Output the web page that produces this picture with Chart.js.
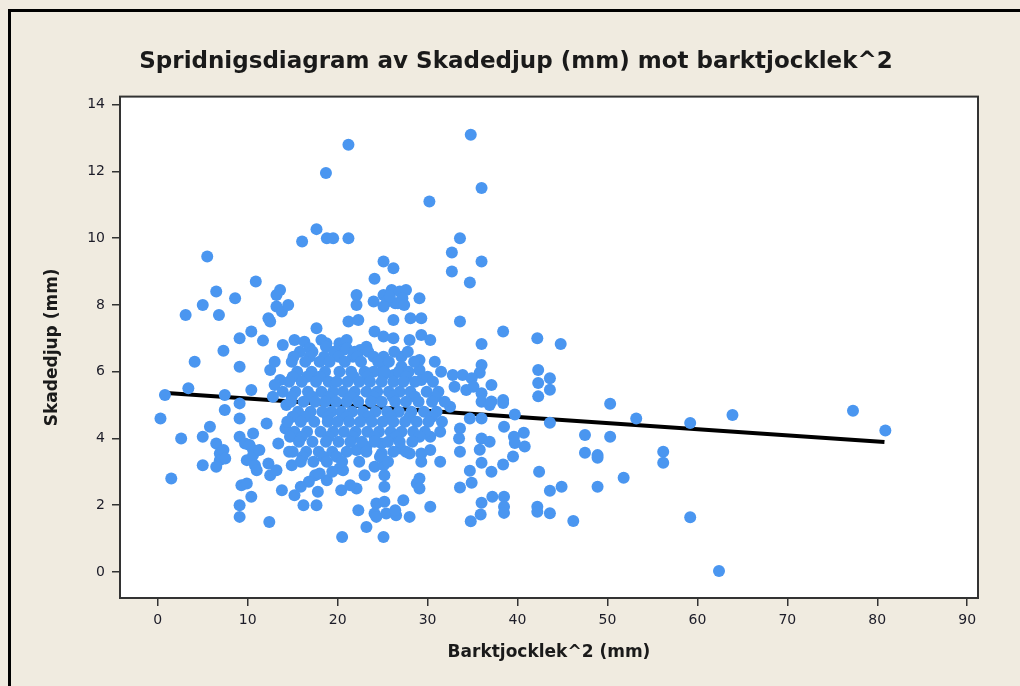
<!DOCTYPE html>
<html>
<head>
<meta charset="utf-8">
<script src="https://cdn.jsdelivr.net/npm/chart.js@4"></script>
<style>
  html, body { margin: 0; padding: 0; background: #f0ebe0; }
  #wrap { position: relative; width: 1020px; height: 686px; overflow: hidden; }
  #frame { position: absolute; left: 8px; top: 9px; width: 1030px; height: 700px;
           border-top: 3px solid #000; border-left: 3px solid #000; }
  canvas { position: absolute; left: 0; top: 0; }
</style>
</head>
<body>
<div id="wrap">
  <div id="frame"></div>
  <canvas id="myChart" width="1020" height="686"></canvas>
</div>
<script>
const xTicks = [0, 10, 20, 30, 40, 50, 60, 70, 80, 90];
const yTicks = [0, 2, 4, 6, 8, 10, 12, 14];

// fitted line (end points)
const fitX = [1.0, 80.8];
const fitY = [5.36, 3.89];

// [barktjocklek^2, skadedjup]
const sparsePoints = [
  [0.3, 4.6], [0.8, 5.3], [1.5, 2.8], [2.6, 4.0], [3.1, 7.7], [3.4, 5.5], [4.1, 6.3], [5.0, 8.0], [5.0, 4.05], [5.0, 3.2],
  [5.5, 9.45], [5.8, 4.35], [6.5, 8.4], [6.8, 7.7], [6.5, 3.85], [6.9, 3.55], [6.9, 3.35], [6.5, 3.15], [7.3, 6.63], [7.45, 5.3],
  [7.45, 4.85], [7.3, 3.65], [7.5, 3.4], [8.6, 8.2], [9.1, 7.0], [9.1, 6.15], [9.1, 4.6], [9.1, 4.05], [9.1, 5.05], [9.3, 2.6],
  [9.1, 2.0], [9.1, 1.65], [9.7, 3.85], [9.9, 3.35], [9.9, 2.65], [10.4, 7.2], [10.4, 5.45], [10.6, 4.15], [10.6, 3.65], [10.2, 3.8],
  [10.6, 3.5], [10.8, 3.2], [11.0, 3.05], [10.4, 2.25], [10.9, 8.7], [11.7, 6.93], [12.1, 4.45], [11.3, 3.65], [12.3, 3.25], [12.4, 1.5],
  [12.3, 7.6], [12.5, 7.5], [12.5, 6.05], [12.5, 2.9], [13.2, 8.3], [13.6, 8.45], [13.2, 7.95], [13.8, 7.8], [14.5, 8.0], [13.0, 6.3],
  [13.6, 5.75], [13.0, 5.6], [13.9, 5.4], [12.8, 5.25], [13.4, 3.85], [13.2, 3.05], [13.8, 2.45], [13.9, 6.8], [14.3, 5.0], [14.2, 4.3],
  [14.6, 3.6], [14.9, 3.2],
  [15.2, 6.95], [16.3, 6.9], [16.9, 6.7], [18.2, 6.95], [18.75, 6.85], [17.65, 7.3], [18.7, 6.75], [16.05, 9.9], [17.65, 10.27], [18.8, 10.0],
  [19.5, 10.0], [18.7, 11.95], [20.2, 6.85], [20.6, 6.65], [15.2, 2.3], [16.2, 2.0], [17.65, 2.0], [17.5, 2.9], [18.8, 2.75], [18.0, 2.95],
  [20.2, 3.1], [20.4, 2.45], [20.5, 1.05], [16.8, 2.7], [15.9, 2.55], [17.8, 2.4], [19.4, 3.0],
  [21.2, 12.8], [21.2, 10.0], [21.2, 7.5], [22.3, 7.55], [22.1, 8.3], [22.1, 8.0], [21.0, 6.95], [21.0, 6.7], [22.5, 6.65], [23.2, 6.75],
  [21.7, 6.45], [24.1, 7.2], [25.1, 7.05], [26.2, 7.0], [24.1, 8.78], [25.1, 9.3], [26.2, 9.1], [25.1, 8.3], [26.0, 8.45], [25.5, 8.1],
  [26.4, 8.05], [24.0, 8.1], [25.8, 8.25], [26.9, 8.4], [26.7, 8.05], [25.1, 7.95], [27.6, 8.45], [27.2, 8.2], [27.4, 8.0], [26.2, 7.55],
  [29.1, 8.2], [28.1, 7.6], [29.3, 7.6], [28.0, 6.95], [29.3, 7.1], [30.3, 6.95], [30.2, 11.1], [25.1, 6.45], [27.1, 6.45], [25.1, 6.15],
  [27.1, 6.15], [25.1, 5.9], [26.2, 5.9], [29.1, 6.35], [29.1, 6.05], [29.3, 5.75],
  [20.6, 3.05], [22.1, 2.5], [21.4, 2.6], [23.0, 2.9], [24.1, 3.15], [25.1, 3.2], [25.2, 2.9], [25.2, 2.55], [22.3, 1.85], [24.3, 2.05],
  [25.2, 2.1], [24.1, 1.75], [25.4, 1.75], [24.3, 1.65], [26.5, 1.7], [23.2, 1.35], [25.1, 1.05], [22.1, 3.65], [23.2, 3.75], [24.9, 3.85],
  [24.9, 3.55], [27.0, 3.7], [28.0, 3.55], [29.3, 3.55], [29.3, 3.3], [31.4, 3.3], [30.3, 3.65], [30.3, 4.05], [31.4, 4.2],
  [27.3, 2.15], [28.0, 1.65], [28.8, 2.65], [29.1, 2.8], [29.1, 2.5], [30.3, 1.95], [26.4, 1.85],
  [34.8, 13.1], [36.0, 11.5], [33.6, 10.0], [32.7, 9.57], [36.0, 9.3], [32.7, 9.0], [34.7, 8.67], [33.6, 7.5], [38.4, 7.2], [36.0, 6.83],
  [36.0, 6.2], [35.8, 5.97], [32.8, 5.9], [33.9, 5.9], [34.9, 5.8], [33.0, 5.55], [34.3, 5.45], [35.1, 5.55], [36.0, 5.35], [36.0, 5.1],
  [37.1, 5.6], [38.4, 5.15], [36.9, 5.0], [32.5, 4.95], [34.7, 4.6], [36.0, 4.6], [37.1, 5.11], [38.4, 5.06], [39.7, 4.72], [33.6, 4.3],
  [33.5, 4.0], [33.6, 3.6], [38.5, 4.35], [39.6, 4.05], [40.7, 4.17], [40.8, 3.76], [39.7, 3.86], [39.5, 3.46], [38.4, 3.22], [36.0, 3.27],
  [34.7, 3.03], [37.1, 3.0], [36.0, 4.0], [36.9, 3.9], [35.8, 3.66], [34.9, 2.67], [33.6, 2.53], [37.2, 2.25], [38.5, 2.25], [38.5, 1.95],
  [38.5, 1.77], [36.0, 2.07], [35.9, 1.72], [34.8, 1.52],
  [42.2, 7.0], [44.8, 6.83], [42.3, 6.05], [42.3, 5.66], [42.3, 5.26], [43.6, 5.8], [43.6, 5.46], [43.6, 4.47], [42.4, 3.0], [43.6, 2.43],
  [44.9, 2.55], [42.2, 1.95], [42.2, 1.8], [43.6, 1.76], [46.2, 1.53], [47.5, 4.1], [47.5, 3.57], [48.9, 3.5], [48.9, 3.42], [48.9, 2.55],
  [50.3, 5.04], [50.3, 4.05], [51.8, 2.82], [53.2, 4.6], [56.2, 3.6], [56.2, 3.27], [59.2, 4.46], [59.2, 1.64], [62.4, 0.03], [63.9, 4.7],
  [77.3, 4.83], [80.9, 4.24]
];

// the dense middle of the cloud, read row by row
const densePoints = [
  [15.8, 6.6], [17.2, 6.6], [19.6, 6.6], [21.9, 6.6], [23.4, 6.6], [26.3, 6.6], [27.8, 6.6],
  [15.1, 6.45], [16.9, 6.45], [18.5, 6.45], [20.1, 6.45], [22.2, 6.45], [24.0, 6.45],
  [14.9, 6.3], [16.4, 6.3], [18.0, 6.3], [19.1, 6.3], [20.8, 6.3], [22.6, 6.3], [24.5, 6.3], [25.7, 6.3], [28.5, 6.3], [30.8, 6.3],
  [15.5, 6.0], [17.1, 6.0], [18.6, 6.0], [20.2, 6.0], [21.5, 6.0], [23.0, 6.0], [24.0, 6.0], [25.2, 6.0], [26.8, 6.0], [27.9, 6.0], [31.5, 6.0],
  [15.0, 5.85], [16.6, 5.85], [18.0, 5.85], [21.8, 5.85], [23.3, 5.85], [27.6, 5.85], [30.0, 5.85],
  [14.6, 5.7], [16.0, 5.7], [17.6, 5.7], [19.0, 5.7], [19.9, 5.7], [21.1, 5.7], [22.4, 5.7], [23.6, 5.7], [24.9, 5.7], [26.2, 5.7], [27.3, 5.7], [28.6, 5.7], [30.6, 5.7],
  [15.3, 5.4], [16.7, 5.4], [18.2, 5.4], [19.5, 5.4], [20.6, 5.4], [21.9, 5.4], [23.2, 5.4], [24.4, 5.4], [25.7, 5.4], [26.9, 5.4], [28.1, 5.4], [29.9, 5.4], [31.2, 5.4],
  [14.9, 5.25], [17.2, 5.25], [19.0, 5.25], [21.5, 5.25], [24.0, 5.25], [26.1, 5.25], [28.6, 5.25], [30.9, 5.25],
  [14.8, 5.1], [16.2, 5.1], [17.5, 5.1], [18.6, 5.1], [19.8, 5.1], [21.0, 5.1], [22.3, 5.1], [23.7, 5.1], [24.9, 5.1], [26.4, 5.1], [27.6, 5.1], [29.0, 5.1], [30.5, 5.1], [31.9, 5.1],
  [15.6, 4.8], [17.0, 4.8], [18.3, 4.8], [19.3, 4.8], [20.4, 4.8], [21.6, 4.8], [22.8, 4.8], [24.2, 4.8], [25.5, 4.8], [26.8, 4.8], [28.2, 4.8], [29.6, 4.8], [31.0, 4.8],
  [15.0, 4.65], [16.4, 4.65], [18.9, 4.65], [21.0, 4.65], [23.4, 4.65], [25.9, 4.65], [28.0, 4.65], [30.5, 4.65],
  [14.4, 4.5], [15.9, 4.5], [17.4, 4.5], [18.9, 4.5], [20.0, 4.5], [21.3, 4.5], [22.5, 4.5], [23.8, 4.5], [25.0, 4.5], [26.2, 4.5], [27.5, 4.5], [28.8, 4.5], [30.1, 4.5], [31.6, 4.5],
  [15.2, 4.2], [16.6, 4.2], [18.1, 4.2], [19.5, 4.2], [20.7, 4.2], [22.0, 4.2], [23.3, 4.2], [24.6, 4.2], [25.9, 4.2], [27.1, 4.2], [28.4, 4.2], [29.7, 4.2],
  [14.7, 4.05], [16.0, 4.05], [19.0, 4.05], [21.7, 4.05], [24.1, 4.05], [26.5, 4.05], [29.1, 4.05],
  [15.7, 3.9], [17.2, 3.9], [18.7, 3.9], [20.1, 3.9], [21.4, 3.9], [22.7, 3.9], [24.1, 3.9], [25.6, 3.9], [26.9, 3.9], [28.3, 3.9],
  [15.0, 3.6], [16.5, 3.6], [17.9, 3.6], [19.4, 3.6], [21.0, 3.6], [23.2, 3.6], [26.2, 3.6], [27.6, 3.6],
  [16.1, 3.45], [18.4, 3.45], [19.9, 3.45], [24.7, 3.45],
  [15.9, 3.3], [17.3, 3.3], [18.8, 3.3], [20.5, 3.3], [22.4, 3.3], [25.6, 3.3]
];

const observations = sparsePoints.concat(densePoints);

const plotBox = {
  id: "plotBox",
  beforeDatasetsDraw(chart) {
    const { ctx, chartArea: a } = chart;
    ctx.save();
    ctx.fillStyle = "#ffffff";
    ctx.fillRect(a.left, a.top, a.right - a.left, a.bottom - a.top);
    ctx.restore();
  },
  afterDatasetsDraw(chart) {
    const { ctx, chartArea: a } = chart;
    ctx.save();
    ctx.strokeStyle = "#333333";
    ctx.lineWidth = 2;
    ctx.strokeRect(a.left, a.top, a.right - a.left, a.bottom - a.top);
    ctx.restore();
  }
};

const ctx = document.getElementById("myChart").getContext("2d");

const myChart = new Chart(ctx, {
  data: {
    datasets: [
      {
        type: "line",
        data: fitX.map((x, i) => ({ x: x, y: fitY[i] })),
        borderColor: "#000000",
        borderWidth: 4,
        pointRadius: 0,
        order: 2,
      },
      {
        type: "scatter",
        data: observations.map((p) => ({ x: p[0], y: p[1] })),
        backgroundColor: "rgb(74, 150, 240)",
        borderWidth: 0,
        pointRadius: 6,
        pointHoverRadius: 6,
        order: 1,
      },
    ],
  },
  options: {
    responsive: false,
    animation: false,
    devicePixelRatio: 1,
    layout: { padding: { left: 42, right: 30, top: 0, bottom: 0 } },
    plugins: {
      legend: { display: false },
      tooltip: { enabled: false },
      title: {
        display: true,
        text: "Spridnigsdiagram av Skadedjup (mm) mot barktjocklek^2",
        color: "#1a1a1a",
        font: { family: "DejaVu Sans", size: 23, weight: "bold" },
        padding: { top: 48, bottom: 21 },
      },
    },
    scales: {
      x: {
        type: "linear",
        min: -4.2,
        max: 91.2,
        afterBuildTicks: (s) => { s.ticks = xTicks.map((v) => ({ value: v })); },
        afterFit: (s) => { s.height = 88; },
        grid: { drawOnChartArea: false, drawTicks: true, tickLength: 8, color: "#333333", lineWidth: 1.5 },
        border: { display: false },
        ticks: { color: "#1c1c28", padding: 6, font: { family: "DejaVu Sans", size: 14 } },
        title: {
          display: true,
          text: "Barktjocklek^2 (mm)",
          color: "#1a1a1a",
          font: { family: "DejaVu Sans", size: 17, weight: "bold" },
          padding: { top: 0, bottom: 23 },
        },
      },
      y: {
        type: "linear",
        min: -0.78,
        max: 14.24,
        afterBuildTicks: (s) => { s.ticks = yTicks.map((v) => ({ value: v })); },
        afterFit: (s) => { s.width = 78; },
        grid: { drawOnChartArea: false, drawTicks: true, tickLength: 8, color: "#333333", lineWidth: 1.5 },
        border: { display: false },
        ticks: { color: "#1c1c28", padding: 7, font: { family: "DejaVu Sans", size: 14 } },
        title: {
          display: true,
          text: "Skadedjup (mm)",
          color: "#1a1a1a",
          font: { family: "DejaVu Sans", size: 17, weight: "bold" },
          padding: { top: 0, bottom: 0 },
        },
      },
      yRight: {
        type: "linear",
        position: "right",
        min: 0,
        max: 1,
        afterFit: (s) => { s.width = 12; },
        grid: { display: false },
        border: { display: false },
        ticks: { display: false },
      },
    },
  },
  plugins: [plotBox],
});
</script>
</body>
</html>
